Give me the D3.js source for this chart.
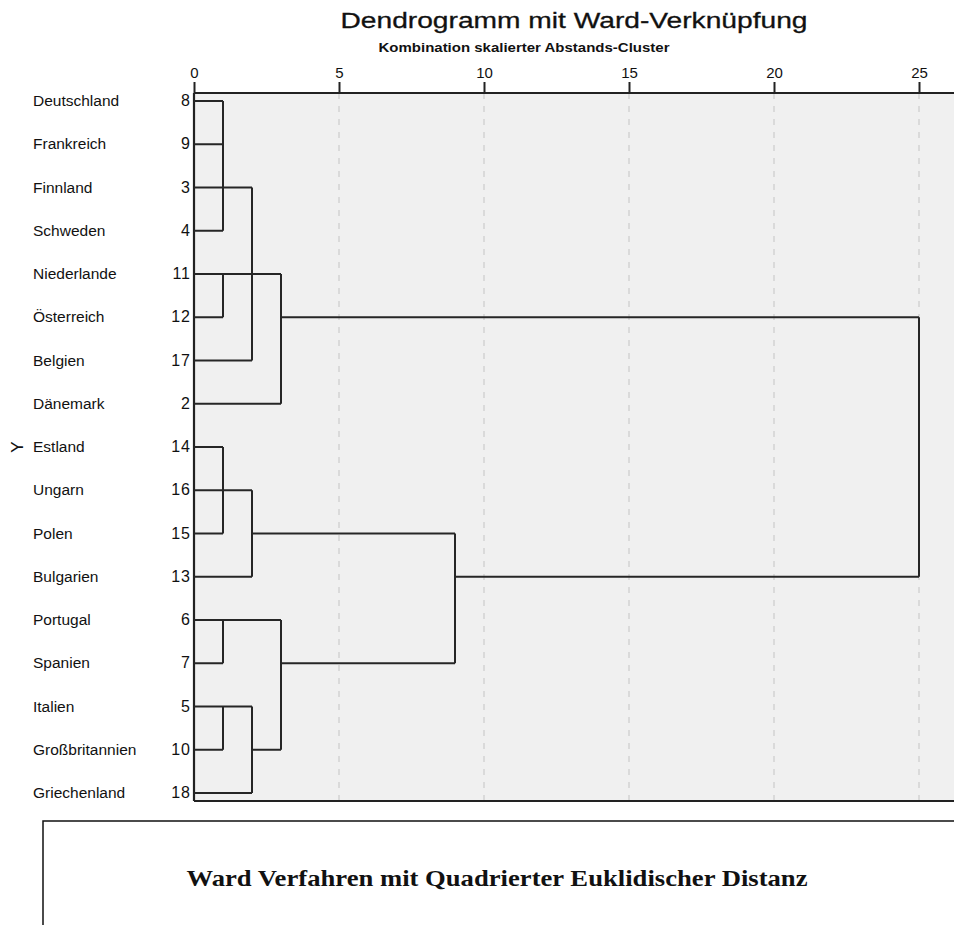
<!DOCTYPE html>
<html>
<head>
<meta charset="utf-8">
<script src="https://cdn.jsdelivr.net/npm/d3@7"></script>
<style>
  body { margin: 0; background: #fff; }
  text { font-family: Arial, "Liberation Sans", sans-serif; fill: #111; }
</style>
</head>
<body>
<svg width="954" height="925"></svg>
<script>
// rows, top to bottom
const countries = ["Deutschland", "Frankreich", "Finnland", "Schweden", "Niederlande", "Österreich",
  "Belgien", "Dänemark", "Estland", "Ungarn", "Polen", "Bulgarien", "Portugal", "Spanien",
  "Italien", "Großbritannien", "Griechenland"];
const caseNumbers = [8, 9, 3, 4, 11, 12, 17, 2, 14, 16, 15, 13, 6, 7, 5, 10, 18];
// distance where each case first joins a cluster
const leafJoin = [1, 1, 1, 1, 1, 1, 2, 3, 1, 1, 1, 2, 1, 1, 1, 1, 2];

// merges (rescaled distance 0-25), row span of the joining line, row the cluster continues on, parent merge
const mergeHeight = [1, 1, 2, 3, 1, 2, 1, 1, 2, 3, 9, 25];
const mergeTop    = [0, 4, 2, 4, 8, 9, 12, 14, 14, 12, 10, 5];
const mergeBottom = [3, 5, 6, 7, 10, 11, 13, 15, 16, 15, 13, 11];
const mergeRow    = [2, 4, 4, 5, 9, 10, 12, 14, 15, 13, 11, null];
const mergeParent = [2, 3, 3, 11, 5, 10, 9, 8, 9, 10, 11, null];

const tickValues = [0, 5, 10, 15, 20, 25];

const svg = d3.select("svg");

var x = d3.scaleLinear().domain([0, 25]).range([194, 919]);
var y = d3.scalePoint().domain(d3.range(countries.length)).range([101, 793]);

const plotTop = 93, plotBottom = 801, plotRight = 960;

// titles
svg.append("text").attr("x", 574).attr("y", 28).attr("text-anchor", "middle")
  .attr("font-size", 22).attr("textLength", 467).attr("lengthAdjust", "spacingAndGlyphs")
  .style("stroke", "#111").style("stroke-width", 0.3)
  .text("Dendrogramm mit Ward-Verknüpfung");
svg.append("text").attr("x", 524).attr("y", 52).attr("text-anchor", "middle")
  .attr("font-size", 13).attr("font-weight", "bold").attr("textLength", 291).attr("lengthAdjust", "spacingAndGlyphs")
  .text("Kombination skalierter Abstands-Cluster");

// plot background
svg.append("rect").attr("x", x(0)).attr("y", plotTop)
  .attr("width", plotRight - x(0)).attr("height", plotBottom - plotTop)
  .attr("fill", "#f0f0f0");

// dashed grid
svg.append("g").selectAll("line")
  .data(tickValues.filter(d => d > 0))
  .enter().append("line")
  .attr("x1", d => x(d)).attr("x2", d => x(d))
  .attr("y1", plotTop).attr("y2", plotBottom)
  .attr("stroke", "#d2d2d2").attr("stroke-width", 1.5).attr("stroke-dasharray", "6,7");

// frame: left + bottom
svg.append("line").attr("x1", x(0)).attr("x2", x(0)).attr("y1", plotTop).attr("y2", plotBottom)
  .attr("stroke", "#222").attr("stroke-width", 2.2);
svg.append("line").attr("x1", x(0)).attr("x2", plotRight).attr("y1", plotBottom).attr("y2", plotBottom)
  .attr("stroke", "#222").attr("stroke-width", 1.8);

// top axis
var x_axis = d3.axisTop(x).tickValues(tickValues).tickSize(11).tickPadding(4);
var gx = svg.append("g").attr("transform", "translate(0," + plotTop + ")").call(x_axis);
gx.select(".domain").remove();
gx.append("line").attr("x1", x(0)).attr("x2", plotRight).attr("stroke", "#222").attr("stroke-width", 2.2);
gx.selectAll(".tick line").attr("stroke", "#222").attr("stroke-width", 2);
gx.selectAll(".tick text").attr("font-size", 15).attr("fill", "#111")
  .attr("font-family", "Arial, 'Liberation Sans', sans-serif");

// row labels
var rows = svg.append("g");
rows.selectAll(".name").data(countries).enter().append("text")
  .attr("class", "name")
  .attr("x", 33).attr("y", (d, i) => y(i) + 5)
  .attr("font-size", 15.5)
  .text(d => d);
rows.selectAll(".case").data(caseNumbers).enter().append("text")
  .attr("class", "case")
  .attr("x", 191).attr("y", (d, i) => y(i) + 5)
  .attr("text-anchor", "end").attr("font-size", 16).attr("letter-spacing", 1)
  .text(d => d);

// rotated Y axis title
svg.append("text").attr("transform", "translate(23," + y(8) + ") rotate(-90)")
  .attr("text-anchor", "middle").attr("font-size", 17).text("Y");

// dendrogram lines
var tree = svg.append("g").attr("stroke", "#262626").attr("stroke-width", 2).attr("fill", "none");

tree.selectAll(".leaf").data(leafJoin).enter().append("line")
  .attr("class", "leaf")
  .attr("x1", x(0)).attr("x2", d => x(d))
  .attr("y1", (d, i) => y(i)).attr("y2", (d, i) => y(i));

tree.selectAll(".vert").data(mergeHeight).enter().append("line")
  .attr("class", "vert")
  .attr("x1", d => x(d)).attr("x2", d => x(d))
  .attr("y1", (d, i) => y(mergeTop[i])).attr("y2", (d, i) => y(mergeBottom[i]));

tree.selectAll(".horiz").data(mergeHeight.filter((d, i) => mergeParent[i] !== null)).enter().append("line")
  .attr("class", "horiz")
  .attr("x1", d => x(d))
  .attr("x2", (d, i) => x(mergeHeight[mergeParent[i]]))
  .attr("y1", (d, i) => y(mergeRow[i])).attr("y2", (d, i) => y(mergeRow[i]));

// note box below
svg.append("rect").attr("x", 43).attr("y", 821).attr("width", 940).attr("height", 140)
  .attr("fill", "#fff").attr("stroke", "#111").attr("stroke-width", 1.5);
svg.append("text").attr("x", 497).attr("y", 886).attr("text-anchor", "middle")
  .style("font-family", "'Liberation Serif', 'DejaVu Serif', serif").style("font-weight", "bold")
  .attr("font-size", 23).attr("textLength", 621).attr("lengthAdjust", "spacingAndGlyphs")
  .text("Ward Verfahren mit Quadrierter Euklidischer Distanz");
</script>
</body>
</html>
